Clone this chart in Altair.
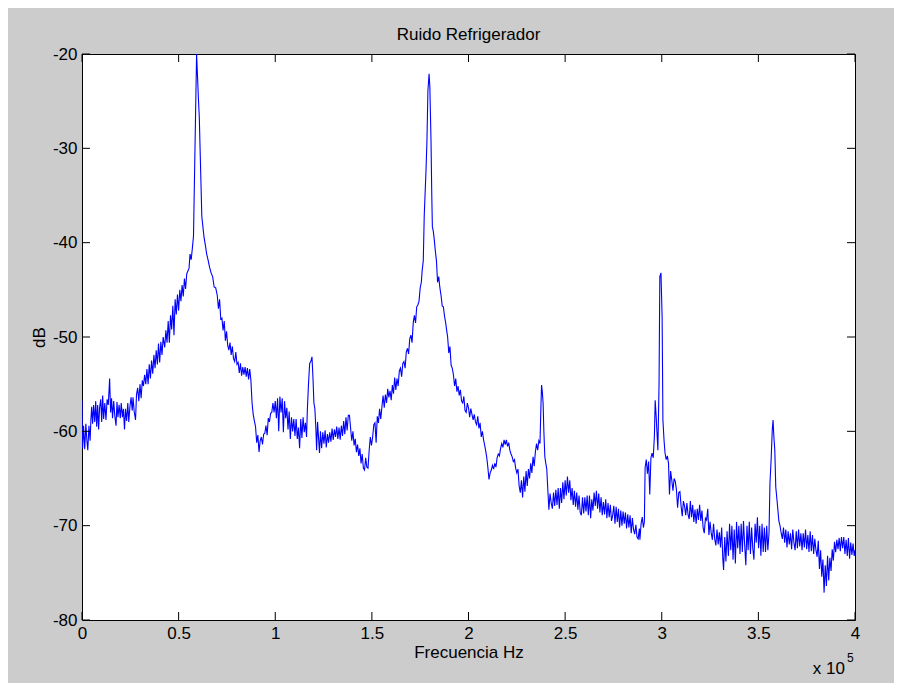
import altair as alt
import pandas as pd

# Frequency in units of 1e5 Hz, level in dB
seg_a = [
    (0.000, -56.7), (0.003, -61.8), (0.008, -59.4), (0.014, -61.9), (0.020, -59.2), (0.025, -60.9),
    (0.030, -62.0), (0.036, -59.4), (0.042, -61.0), (0.046, -58.8), (0.050, -57.4), (0.055, -59.2),
    (0.060, -57.2), (0.066, -59.0), (0.071, -56.8), (0.076, -59.5), (0.081, -57.2), (0.086, -59.8),
    (0.091, -57.5), (0.097, -56.6), (0.102, -59.0), (0.107, -56.2), (0.112, -58.7), (0.118, -57.0),
    (0.124, -58.8), (0.130, -56.6), (0.136, -57.2), (0.143, -54.4), (0.148, -58.0), (0.153, -56.5),
    (0.158, -58.6), (0.164, -56.8), (0.170, -58.4), (0.176, -59.4), (0.181, -56.9), (0.186, -58.5),
    (0.192, -57.2), (0.198, -58.6), (0.203, -57.0), (0.209, -58.5), (0.214, -57.6), (0.220, -59.8),
    (0.225, -57.6), (0.231, -58.9), (0.237, -57.0), (0.242, -59.0), (0.248, -57.4), (0.254, -56.4),
    (0.260, -57.8), (0.264, -56.4), (0.270, -57.9), (0.277, -58.8), (0.282, -56.1), (0.288, -55.4),
    (0.294, -56.8), (0.300, -55.0), (0.306, -56.5), (0.312, -54.6), (0.318, -55.2), (0.324, -54.0),
    (0.330, -55.0), (0.336, -53.4), (0.342, -55.0), (0.348, -52.9), (0.354, -54.4), (0.360, -52.5),
    (0.366, -53.9), (0.372, -51.9), (0.378, -53.3), (0.384, -51.4), (0.390, -52.9), (0.396, -50.7),
    (0.402, -52.7), (0.408, -50.5), (0.414, -51.9), (0.420, -50.0), (0.428, -51.1), (0.434, -49.3),
    (0.440, -50.6), (0.446, -48.3), (0.452, -50.6), (0.458, -47.7), (0.464, -49.2), (0.470, -46.7),
    (0.476, -49.8), (0.482, -46.0), (0.488, -47.6), (0.494, -45.5), (0.500, -47.2), (0.506, -45.0),
    (0.512, -46.2), (0.518, -44.5), (0.524, -45.7), (0.530, -43.8), (0.536, -44.9), (0.542, -43.3),
    (0.548, -43.0), (0.554, -42.7), (0.559, -41.2), (0.565, -41.8), (0.571, -40.6), (0.577, -39.3),
    (0.583, -32.0), (0.588, -26.0), (0.593, -20.0), (0.598, -22.5), (0.603, -25.0), (0.607, -26.7),
    (0.611, -30.0), (0.614, -32.4), (0.620, -37.2), (0.626, -38.4), (0.632, -39.5), (0.638, -40.2),
    (0.645, -41.2), (0.652, -41.8), (0.660, -42.6), (0.668, -43.2), (0.676, -43.6), (0.684, -44.7),
    (0.692, -44.8), (0.700, -45.6), (0.706, -47.0), (0.712, -46.0), (0.718, -48.1), (0.724, -48.0),
    (0.730, -49.3), (0.736, -48.3), (0.742, -50.4), (0.748, -49.4), (0.754, -50.9), (0.760, -51.4),
    (0.766, -50.6), (0.772, -51.9), (0.778, -51.0), (0.784, -52.3), (0.790, -52.6), (0.796, -51.6),
    (0.802, -52.9), (0.808, -52.7), (0.814, -53.8), (0.820, -52.8), (0.826, -54.1), (0.832, -53.2),
    (0.838, -54.0), (0.844, -53.2), (0.850, -54.2), (0.856, -53.3), (0.862, -54.5), (0.868, -53.4),
    (0.874, -54.6), (0.880, -57.0), (0.886, -58.2), (0.892, -58.9), (0.898, -59.5), (0.904, -61.2),
    (0.910, -60.4), (0.916, -62.2), (0.922, -61.0), (0.928, -60.6), (0.934, -61.4), (0.940, -60.3),
    (0.946, -60.2), (0.952, -59.4), (0.958, -60.4), (0.964, -58.6), (0.970, -59.0), (0.976, -58.1),
    (0.982, -58.0), (0.988, -57.0), (0.994, -58.0),
]

seg_b = [
    (1.000, -56.8), (1.006, -58.6), (1.012, -56.5), (1.018, -60.0), (1.024, -56.3), (1.030, -58.0),
    (1.036, -56.5), (1.042, -60.1), (1.048, -56.8), (1.054, -58.6), (1.060, -57.5), (1.066, -59.8),
    (1.072, -57.9), (1.078, -60.8), (1.084, -58.5), (1.090, -60.0), (1.096, -58.7), (1.102, -60.5),
    (1.108, -58.7), (1.114, -60.8), (1.120, -59.6), (1.126, -61.8), (1.132, -58.7), (1.138, -60.7),
    (1.144, -58.5), (1.150, -60.1), (1.156, -59.1), (1.162, -60.6), (1.166, -57.8), (1.172, -55.0),
    (1.178, -52.8), (1.184, -52.6), (1.190, -52.1), (1.195, -54.2), (1.200, -57.0), (1.205, -57.6),
    (1.210, -59.6), (1.214, -62.0), (1.219, -59.0), (1.224, -60.7), (1.229, -62.3), (1.234, -60.0),
    (1.240, -61.8), (1.246, -60.1), (1.252, -61.3), (1.258, -59.9), (1.264, -61.7), (1.270, -60.3),
    (1.276, -61.2), (1.282, -60.1), (1.288, -61.1), (1.294, -59.7), (1.300, -60.9), (1.306, -59.8),
    (1.312, -60.6), (1.318, -59.5), (1.324, -60.8), (1.330, -59.6), (1.336, -60.9), (1.342, -59.4),
    (1.348, -60.5), (1.354, -58.9), (1.360, -60.3), (1.366, -58.5), (1.372, -59.9), (1.378, -58.3),
    (1.384, -58.3), (1.390, -59.7), (1.396, -61.0), (1.402, -60.0), (1.408, -61.5), (1.414, -60.8),
    (1.420, -62.2), (1.426, -61.4), (1.432, -62.6), (1.438, -61.8), (1.444, -63.4), (1.450, -62.4),
    (1.456, -63.9), (1.462, -64.1), (1.468, -62.8), (1.474, -63.8), (1.480, -63.9), (1.486, -62.0),
    (1.492, -60.6), (1.498, -61.5), (1.504, -60.6), (1.510, -59.3), (1.516, -59.1), (1.522, -61.2),
    (1.528, -58.4), (1.534, -59.1), (1.540, -57.6), (1.546, -58.7), (1.552, -57.4), (1.558, -56.2),
    (1.564, -57.5), (1.570, -56.1), (1.576, -57.0), (1.582, -55.5), (1.588, -56.4), (1.594, -55.7),
    (1.600, -56.7), (1.606, -55.1), (1.612, -56.0), (1.618, -54.3), (1.624, -55.6), (1.630, -54.4),
    (1.636, -55.2), (1.642, -53.6), (1.648, -53.3), (1.654, -54.2), (1.660, -52.8), (1.666, -52.6),
    (1.672, -53.3), (1.678, -51.6), (1.684, -51.2), (1.690, -51.8), (1.696, -50.2), (1.702, -49.8),
    (1.708, -50.6), (1.714, -48.5), (1.720, -47.7), (1.726, -48.5), (1.732, -46.8), (1.738, -46.6),
    (1.744, -46.2), (1.750, -44.8), (1.756, -44.2), (1.760, -43.0), (1.766, -41.9), (1.771, -37.1),
    (1.776, -34.5), (1.780, -32.4), (1.785, -29.2), (1.790, -23.9), (1.796, -22.1), (1.800, -23.5),
    (1.806, -29.2), (1.810, -35.0), (1.813, -38.3), (1.818, -38.8), (1.823, -39.7), (1.828, -40.8),
    (1.834, -41.9), (1.840, -44.2), (1.846, -43.6), (1.852, -44.8), (1.858, -45.6), (1.864, -46.7),
    (1.870, -46.8), (1.876, -47.8), (1.882, -48.5), (1.887, -49.3), (1.892, -50.0), (1.898, -51.7),
    (1.904, -51.0), (1.910, -53.0), (1.916, -53.3), (1.922, -54.0), (1.928, -55.2), (1.934, -54.4),
    (1.940, -55.8), (1.946, -55.2), (1.952, -56.2), (1.958, -55.6), (1.964, -56.8), (1.970, -57.0),
    (1.976, -56.3), (1.982, -57.8), (1.988, -58.0), (1.994, -57.0),
]

seg_c = [
    (2.000, -57.5), (2.006, -58.5), (2.012, -57.6), (2.018, -58.2), (2.024, -58.8), (2.030, -58.2),
    (2.036, -59.0), (2.042, -59.3), (2.048, -58.4), (2.054, -59.7), (2.060, -59.1), (2.066, -60.6),
    (2.072, -60.0), (2.078, -60.9), (2.084, -61.5), (2.090, -62.2), (2.094, -62.7), (2.100, -63.8),
    (2.106, -65.1), (2.112, -64.4), (2.118, -64.1), (2.124, -63.6), (2.130, -64.0), (2.136, -63.4),
    (2.142, -63.8), (2.148, -62.8), (2.154, -62.4), (2.160, -62.6), (2.166, -61.8), (2.172, -61.3),
    (2.178, -61.7), (2.184, -60.9), (2.190, -61.4), (2.196, -60.9), (2.202, -61.6), (2.208, -61.2),
    (2.214, -62.0), (2.220, -62.4), (2.226, -62.7), (2.232, -63.2), (2.238, -63.0), (2.244, -63.9),
    (2.250, -64.4), (2.256, -64.0), (2.262, -65.8), (2.268, -66.5), (2.274, -65.2), (2.280, -67.0),
    (2.286, -64.8), (2.292, -66.4), (2.298, -64.2), (2.304, -65.8), (2.310, -64.0), (2.316, -65.0),
    (2.322, -63.4), (2.328, -64.4), (2.334, -62.7), (2.340, -63.7), (2.346, -62.2), (2.352, -61.3),
    (2.358, -62.0), (2.364, -61.0), (2.370, -61.3), (2.374, -58.0), (2.378, -55.1), (2.382, -55.8),
    (2.386, -57.0), (2.390, -60.0), (2.395, -62.7), (2.400, -63.4), (2.405, -64.0), (2.410, -66.0),
    (2.416, -68.3), (2.422, -66.6), (2.428, -67.6), (2.434, -68.2), (2.440, -66.5), (2.446, -67.9),
    (2.452, -66.2), (2.458, -67.8), (2.464, -66.0), (2.470, -68.2), (2.476, -66.0), (2.482, -67.6),
    (2.488, -65.4), (2.494, -67.2), (2.500, -65.2), (2.506, -66.8), (2.512, -64.8), (2.518, -66.5),
    (2.524, -65.2), (2.530, -67.3), (2.536, -66.0), (2.542, -67.8), (2.548, -66.3), (2.554, -68.0),
    (2.560, -66.5), (2.566, -68.3), (2.572, -66.8), (2.578, -68.6), (2.584, -68.9), (2.590, -67.0),
    (2.596, -68.7), (2.602, -67.0), (2.608, -68.5), (2.614, -66.8), (2.620, -68.9), (2.626, -66.8),
    (2.632, -69.2), (2.638, -67.2), (2.644, -68.4), (2.650, -66.5), (2.656, -67.9), (2.662, -66.3),
    (2.668, -68.2), (2.674, -66.6), (2.680, -68.6), (2.686, -67.0), (2.692, -68.9), (2.698, -67.5),
    (2.704, -68.8), (2.710, -67.2), (2.716, -69.2), (2.722, -67.6), (2.728, -69.1), (2.734, -67.8),
    (2.740, -69.5), (2.746, -68.9), (2.752, -67.9), (2.758, -69.8), (2.764, -68.0), (2.770, -69.6),
    (2.776, -68.2), (2.782, -70.2), (2.788, -68.4), (2.794, -70.0), (2.800, -68.5), (2.806, -69.8),
    (2.812, -68.6), (2.818, -70.3), (2.824, -68.8), (2.830, -70.2), (2.836, -68.9), (2.842, -70.8),
    (2.848, -69.2), (2.854, -70.4), (2.860, -70.9), (2.866, -69.9), (2.872, -71.2), (2.878, -71.4),
    (2.884, -70.3), (2.887, -71.5), (2.893, -69.8), (2.899, -69.1), (2.905, -70.2), (2.910, -69.6),
    (2.914, -63.8), (2.920, -63.0), (2.926, -64.5), (2.932, -63.2), (2.938, -66.7), (2.944, -62.8),
    (2.950, -62.3), (2.956, -62.8), (2.962, -60.5), (2.966, -56.7), (2.970, -58.0), (2.975, -60.0),
    (2.980, -62.0), (2.986, -55.0), (2.990, -43.6), (2.996, -43.2),
]

seg_d = [
    (3.002, -48.0), (3.006, -58.8), (3.012, -61.0), (3.017, -62.3), (3.023, -63.0), (3.029, -62.6),
    (3.035, -63.4), (3.040, -66.7), (3.046, -64.2), (3.052, -65.2), (3.058, -66.3), (3.064, -65.0),
    (3.070, -65.3), (3.076, -66.2), (3.082, -68.1), (3.088, -66.5), (3.094, -66.4), (3.100, -67.9),
    (3.106, -69.0), (3.112, -67.4), (3.118, -67.9), (3.124, -68.9), (3.130, -67.6), (3.136, -68.8),
    (3.142, -69.3), (3.148, -67.4), (3.154, -69.1), (3.160, -67.8), (3.166, -69.6), (3.172, -68.3),
    (3.178, -69.8), (3.184, -68.2), (3.190, -69.4), (3.196, -67.8), (3.202, -69.5), (3.208, -68.4),
    (3.214, -70.2), (3.220, -70.8), (3.226, -69.2), (3.232, -69.4), (3.238, -68.2), (3.244, -71.0),
    (3.250, -69.6), (3.256, -70.8), (3.262, -71.5), (3.268, -69.8), (3.274, -71.4), (3.280, -72.1),
    (3.286, -70.4), (3.292, -72.0), (3.298, -70.7), (3.304, -72.3), (3.310, -70.2), (3.316, -73.5),
    (3.320, -74.7), (3.326, -71.2), (3.332, -73.8), (3.338, -70.6), (3.345, -73.2), (3.351, -69.8),
    (3.357, -72.6), (3.363, -70.0), (3.369, -73.6), (3.375, -70.4), (3.381, -74.0), (3.387, -69.6),
    (3.393, -72.4), (3.399, -70.0), (3.405, -73.0), (3.411, -69.8), (3.417, -72.8), (3.423, -69.5),
    (3.429, -72.0), (3.435, -74.2), (3.441, -70.0), (3.447, -72.6), (3.453, -69.6), (3.459, -73.0),
    (3.465, -70.2), (3.471, -72.4), (3.477, -73.6), (3.483, -69.8), (3.489, -71.8), (3.495, -69.1),
    (3.501, -72.4), (3.507, -70.0), (3.513, -73.2), (3.519, -69.8), (3.525, -72.8), (3.531, -70.2),
    (3.537, -72.8), (3.543, -70.0), (3.549, -72.6), (3.555, -70.8), (3.560, -65.5), (3.566, -63.0),
    (3.572, -59.8), (3.576, -58.8), (3.580, -60.5), (3.585, -62.0), (3.590, -65.9), (3.596, -67.2),
    (3.600, -68.1), (3.606, -69.5), (3.612, -70.0), (3.618, -70.8), (3.624, -71.4), (3.630, -70.2),
    (3.636, -71.8), (3.642, -70.4), (3.648, -72.3), (3.654, -70.6), (3.660, -72.0), (3.666, -70.8),
    (3.672, -72.5), (3.678, -70.4), (3.684, -71.8), (3.690, -72.6), (3.696, -70.6), (3.702, -72.4),
    (3.708, -70.4), (3.714, -72.2), (3.720, -70.8), (3.726, -72.6), (3.732, -70.8), (3.738, -72.3),
    (3.744, -70.4), (3.750, -72.5), (3.756, -71.0), (3.762, -72.8), (3.768, -70.6), (3.774, -72.7),
    (3.780, -71.0), (3.786, -73.0), (3.792, -71.4), (3.798, -72.6), (3.804, -73.3), (3.810, -71.6),
    (3.816, -74.6), (3.822, -72.6), (3.828, -75.4), (3.834, -73.6), (3.840, -77.1), (3.846, -74.2),
    (3.852, -76.4), (3.858, -73.2), (3.864, -75.8), (3.870, -73.4), (3.876, -74.8), (3.882, -72.5),
    (3.888, -73.7), (3.894, -71.7), (3.900, -72.8), (3.906, -71.5), (3.912, -72.5), (3.918, -71.3),
    (3.924, -72.7), (3.930, -71.2), (3.936, -72.4), (3.942, -71.2), (3.948, -73.0), (3.954, -71.5),
    (3.960, -73.2), (3.966, -71.3), (3.972, -73.5), (3.978, -71.8), (3.984, -73.1), (3.990, -71.9),
    (3.996, -73.2), (4.000, -72.6),
]

x_tick_values = [0, 0.5, 1, 1.5, 2, 2.5, 3, 3.5, 4]
y_tick_values = [-80, -70, -60, -50, -40, -30, -20]

title_text = "Ruido Refrigerador"
x_title = "Frecuencia Hz"
y_title = "dB"
exp_base = "x 10"
exp_power = "5"

df = pd.DataFrame(seg_a + seg_b + seg_c + seg_d, columns=["f", "db"])
df_xt = pd.DataFrame({"v": x_tick_values})
df_yt = pd.DataFrame({"v": y_tick_values})

W, H = 773, 566
FONT = "Liberation Sans, Arial, Helvetica, sans-serif"
FS = 17

x_scale = alt.Scale(domain=[0, 4], nice=False, zero=False)
y_scale = alt.Scale(domain=[-80, -20], nice=False, zero=False)

x_axis = alt.Axis(values=x_tick_values, title=x_title, labelExpr="toString(datum.value)",
                  titlePadding=3)
y_axis = alt.Axis(values=y_tick_values, title=y_title, labelExpr="toString(datum.value)",
                  titlePadding=4)

line = alt.Chart(df).mark_line(color="#0000ff", strokeWidth=1.1, clip=True).encode(
    x=alt.X("f:Q", scale=x_scale, axis=x_axis),
    y=alt.Y("db:Q", scale=y_scale, axis=y_axis),
)

TL = 8
xt_bottom = alt.Chart(df_xt).mark_rule(color="black", strokeWidth=1).encode(
    x=alt.X("v:Q", scale=x_scale, axis=x_axis), y=alt.value(H), y2=alt.value(H - TL))
xt_top = alt.Chart(df_xt).mark_rule(color="black", strokeWidth=1).encode(
    x=alt.X("v:Q", scale=x_scale, axis=x_axis), y=alt.value(0), y2=alt.value(TL))
yt_left = alt.Chart(df_yt).mark_rule(color="black", strokeWidth=1).encode(
    y=alt.Y("v:Q", scale=y_scale, axis=y_axis), x=alt.value(0), x2=alt.value(TL))
yt_right = alt.Chart(df_yt).mark_rule(color="black", strokeWidth=1).encode(
    y=alt.Y("v:Q", scale=y_scale, axis=y_axis), x=alt.value(W), x2=alt.value(W - TL))

exp1 = alt.Chart(pd.DataFrame({"t": [exp_base]})).mark_text(
    font=FONT, fontSize=FS, align="right", baseline="middle", color="black").encode(
    x=alt.value(W - 10), y=alt.value(H + 49), text="t:N")
exp2 = alt.Chart(pd.DataFrame({"t": [exp_power]})).mark_text(
    font=FONT, fontSize=12, align="left", baseline="middle", color="black").encode(
    x=alt.value(W - 8), y=alt.value(H + 38), text="t:N")

chart = alt.layer(line, xt_bottom, xt_top, yt_left, yt_right, exp1, exp2).properties(
    width=W, height=H,
    title=alt.TitleParams(title_text, font=FONT, fontSize=FS, fontWeight="normal",
                          color="black", offset=1),
    padding={"left": 74, "top": 46, "right": 39, "bottom": 63},
    autosize=alt.AutoSizeParams(type="none"),
).configure(background="#cccccc").configure_view(
    fill="white", stroke="black", strokeWidth=1
).configure_axis(
    labelFont=FONT, labelFontSize=FS, labelColor="black", labelPadding=5,
    titleFont=FONT, titleFontSize=FS, titleFontWeight="normal", titleColor="black",
    grid=False, ticks=False, tickSize=0, domain=False, labelFlush=False, labelOverlap=False,
)

chart.save("out.html", embed_options={"renderer": "svg", "actions": False})
